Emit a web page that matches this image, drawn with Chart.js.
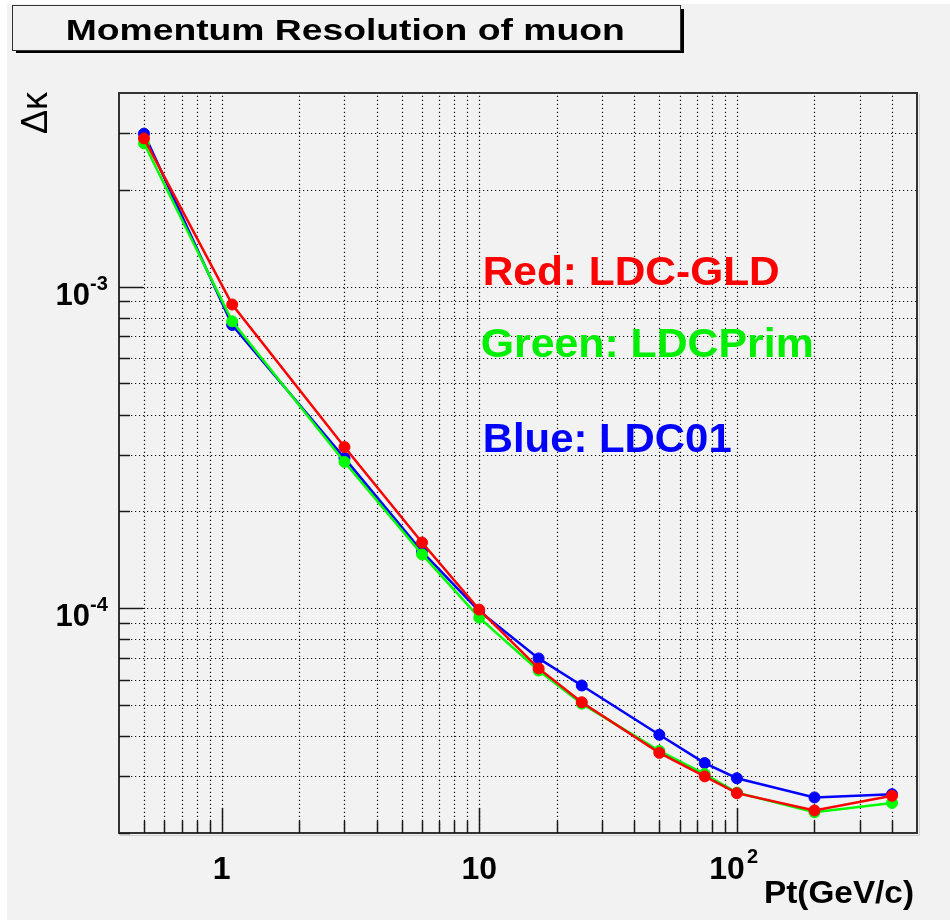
<!DOCTYPE html>
<html lang="en">
    <head>
        <meta charset="UTF-8" />
        <meta name="viewport" content="width=device-width, initial-scale=1.0" />
        <title>Momentum Resolution of muon</title>
        <script src="https://cdn.jsdelivr.net/npm/chart.js@4.4.1/dist/chart.umd.min.js"></script>
    </head>

    <style>
        html,
        body {
            margin: 0;
            padding: 0;
            background: #ffffff;
        }
        #resChart {
            display: block;
        }
    </style>

    <body>
        <canvas id="resChart" width="950" height="920"></canvas>
    </body>

    <script>
        // Pt points (GeV/c)
        const ptValues = [0.5, 1.1, 3, 6, 10, 17, 25, 50, 75, 100, 200, 400];

        // delta kappa for each detector model
        const ldcGld = [2.89e-3, 8.8e-4, 3.17e-4, 1.6e-4, 9.9e-5, 6.5e-5, 5.1e-5, 3.55e-5, 3.0e-5, 2.66e-5, 2.35e-5, 2.61e-5];
        const ldcPrim = [2.79e-3, 7.8e-4, 2.85e-4, 1.47e-4, 9.35e-5, 6.4e-5, 5.05e-5, 3.6e-5, 3.05e-5, 2.67e-5, 2.32e-5, 2.48e-5];
        const ldc01 = [2.99e-3, 7.6e-4, 2.93e-4, 1.5e-4, 9.8e-5, 6.98e-5, 5.75e-5, 4.04e-5, 3.3e-5, 2.96e-5, 2.58e-5, 2.64e-5];

        // axis ranges and ticks
        const xRange = [0.4, 500];
        const yRange = [2e-5, 4e-3];
        const xTicks = [0.5, 0.6, 0.7, 0.8, 0.9, 1, 2, 3, 4, 5, 6, 7, 8, 9, 10, 20, 30, 40, 50, 60, 70, 80, 90, 100, 200, 300, 400];
        const yTicks = [2e-5, 3e-5, 4e-5, 5e-5, 6e-5, 7e-5, 8e-5, 9e-5, 1e-4, 2e-4, 3e-4, 4e-4, 5e-4, 6e-4, 7e-4, 8e-4, 9e-4, 1e-3, 2e-3, 3e-3];

        // labelled decades: mantissa text and exponent
        const xLabelVals = [1, 10, 100];
        const xLabelBase = ["1", "10", "10"];
        const xLabelExp = ["", "", "2"];
        const yLabelVals = [1e-4, 1e-3];
        const yLabelBase = ["10", "10"];
        const yLabelExp = ["-4", "-3"];

        const legendText = ["Red: LDC-GLD", "Green: LDCPrim", "Blue: LDC01"];
        const legendColors = ["#ff0000", "#00ee00", "#0000ff"];

        const FONT = '"Liberation Sans", Arial, Helvetica, sans-serif';
        const INK = "#1a1a1a";

        function isDecade(v) {
            const l = Math.log10(v);
            return Math.abs(l - Math.round(l)) < 1e-9;
        }

        // draw text squeezed/stretched horizontally to a given width
        function fitText(ctx, str, x, y, font, width) {
            ctx.save();
            ctx.font = font;
            const w = ctx.measureText(str).width;
            ctx.translate(x, y);
            ctx.scale(width / w, 1);
            ctx.textAlign = "left";
            ctx.textBaseline = "alphabetic";
            ctx.fillText(str, 0, 0);
            ctx.restore();
        }

        const rootStyle = {
            id: "rootStyle",
            beforeDraw(chart) {
                const ctx = chart.ctx;
                ctx.save();
                ctx.fillStyle = "#ffffff";
                ctx.fillRect(0, 0, chart.width, chart.height);
                ctx.fillStyle = "#f2f2f2";
                ctx.fillRect(7, 4, chart.width - 7, chart.height - 4);
                ctx.restore();
            },
            beforeDatasetsDraw(chart) {
                // dotted grid at every tick
                const ctx = chart.ctx;
                const a = chart.chartArea;
                const xs = chart.scales.x;
                const ys = chart.scales.y;
                ctx.save();
                ctx.strokeStyle = "#111111";
                ctx.lineWidth = 1.2;
                ctx.setLineDash([1.2, 2.8]);
                xTicks.forEach((v) => {
                    const px = Math.round(xs.getPixelForValue(v)) + 0.5;
                    ctx.beginPath();
                    ctx.moveTo(px, a.bottom);
                    ctx.lineTo(px, a.top);
                    ctx.stroke();
                });
                yTicks.forEach((v) => {
                    const py = Math.round(ys.getPixelForValue(v)) + 0.5;
                    ctx.beginPath();
                    ctx.moveTo(a.left, py);
                    ctx.lineTo(a.right, py);
                    ctx.stroke();
                });
                ctx.restore();
            },
            afterDraw(chart) {
                const ctx = chart.ctx;
                const a = chart.chartArea;
                const xs = chart.scales.x;
                const ys = chart.scales.y;
                ctx.save();

                // frame
                ctx.strokeStyle = "#cfcfcf";
                ctx.lineWidth = 1;
                ctx.beginPath();
                ctx.moveTo(a.left + 1, a.bottom + 2.5);
                ctx.lineTo(a.right + 2.5, a.bottom + 2.5);
                ctx.lineTo(a.right + 2.5, a.top + 1);
                ctx.stroke();
                ctx.strokeStyle = "#333333";
                ctx.lineWidth = 2;
                ctx.strokeRect(a.left, a.top, a.right - a.left, a.bottom - a.top);

                // ticks inside the frame, long on decades
                ctx.strokeStyle = INK;
                ctx.lineWidth = 1.5;
                xTicks.forEach((v) => {
                    const px = Math.round(xs.getPixelForValue(v)) + 0.5;
                    const len = isDecade(v) ? 25 : 12;
                    ctx.beginPath();
                    ctx.moveTo(px, a.bottom);
                    ctx.lineTo(px, a.bottom - len);
                    ctx.stroke();
                });
                yTicks.forEach((v) => {
                    const py = Math.round(ys.getPixelForValue(v)) + 0.5;
                    const len = isDecade(v) ? 24 : 11;
                    ctx.beginPath();
                    ctx.moveTo(a.left, py);
                    ctx.lineTo(a.left + len, py);
                    ctx.stroke();
                });

                // tick labels
                ctx.fillStyle = "#000000";
                ctx.textBaseline = "alphabetic";
                xLabelVals.forEach((v, i) => {
                    const px = xs.getPixelForValue(v);
                    ctx.font = "bold 32px " + FONT;
                    if (xLabelExp[i]) {
                        ctx.textAlign = "right";
                        ctx.fillText(xLabelBase[i], px + 8, a.bottom + 46);
                        ctx.font = "bold 20px " + FONT;
                        ctx.textAlign = "left";
                        ctx.fillText(xLabelExp[i], px + 10, a.bottom + 30);
                    } else {
                        ctx.textAlign = "center";
                        ctx.fillText(xLabelBase[i], px, a.bottom + 46);
                    }
                });
                yLabelVals.forEach((v, i) => {
                    const py = ys.getPixelForValue(v);
                    ctx.font = "bold 31px " + FONT;
                    ctx.textAlign = "right";
                    ctx.fillText(yLabelBase[i], 90, py + 18);
                    ctx.font = "bold 20px " + FONT;
                    ctx.textAlign = "left";
                    ctx.fillText(yLabelExp[i], 90, py + 3);
                });

                // axis titles
                fitText(ctx, "Pt(GeV/c)", 764, 903, "bold 32px " + FONT, 150);
                ctx.save();
                ctx.translate(47, a.top - 1);
                ctx.rotate(-Math.PI / 2);
                ctx.font = "36px " + FONT;
                ctx.textAlign = "right";
                ctx.fillText("\u0394\u03ba", 0, 0);
                ctx.restore();

                // coloured labels inside the frame
                const legX = [482.7, 480.7, 482.7];
                const legY = [285, 356.7, 451.7];
                const legW = [297, 333, 249];
                legendText.forEach((t, i) => {
                    ctx.fillStyle = legendColors[i];
                    fitText(ctx, t, legX[i], legY[i], "bold 40px " + FONT, legW[i]);
                });

                // title box with shadow
                ctx.fillStyle = "#000000";
                ctx.fillRect(16, 49, 668, 4);
                ctx.fillRect(680, 9, 4, 44);
                ctx.fillStyle = "#f2f2f2";
                ctx.fillRect(13, 5.5, 668, 45.5);
                ctx.strokeStyle = "#333333";
                ctx.lineWidth = 1;
                ctx.strokeRect(12.5, 5.5, 668, 45);
                ctx.fillStyle = "#000000";
                fitText(ctx, "Momentum Resolution of muon", 65.7, 40, "bold 29px " + FONT, 559);

                ctx.restore();
            },
        };

        function series(values, color) {
            return {
                data: ptValues.map((x, i) => ({ x: x, y: values[i] })),
                borderColor: color,
                backgroundColor: color,
                borderWidth: 2.5,
                pointRadius: 5.5,
                pointBorderWidth: 1,
                pointStyle: "circle",
                tension: 0,
            };
        }

        const chart = new Chart("resChart", {
            type: "line",
            data: {
                // first dataset is drawn on top
                datasets: [
                    series(ldcGld, "#ff0000"),
                    series(ldcPrim, "#00ff00"),
                    series(ldc01, "#0000ff"),
                ],
            },
            plugins: [rootStyle],
            options: {
                responsive: false,
                animation: false,
                devicePixelRatio: 1,
                layout: {
                    padding: { left: 119, top: 93, right: 33, bottom: 87 },
                },
                plugins: {
                    legend: { display: false },
                    title: { display: false },
                    tooltip: { enabled: false },
                },
                scales: {
                    x: {
                        type: "logarithmic",
                        min: xRange[0],
                        max: xRange[1],
                        grid: { display: false },
                        border: { display: false },
                        ticks: { display: false },
                        afterFit: (s) => {
                            s.height = 0;
                        },
                    },
                    y: {
                        type: "logarithmic",
                        min: yRange[0],
                        max: yRange[1],
                        grid: { display: false },
                        border: { display: false },
                        ticks: { display: false },
                        afterFit: (s) => {
                            s.width = 0;
                        },
                    },
                },
            },
        });
    </script>
</html>
